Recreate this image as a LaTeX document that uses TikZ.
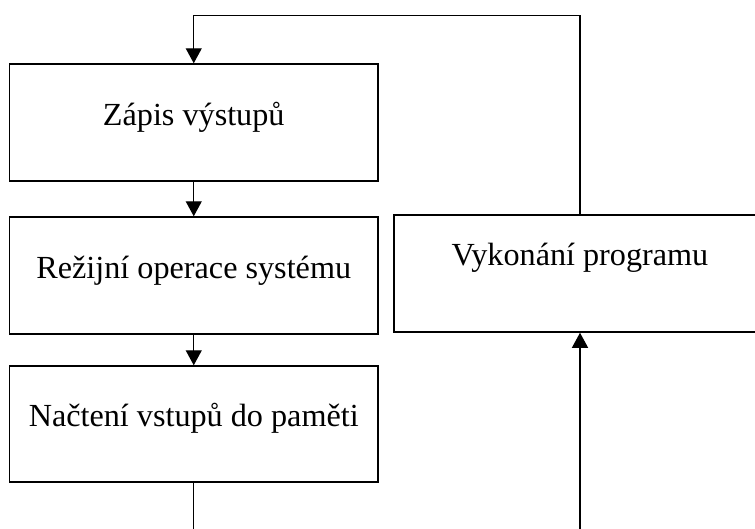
\documentclass[tikz,border=0pt]{standalone}
\usepackage{fontspec}
\setmainfont{Liberation Serif}
\usetikzlibrary{arrows.meta}
\begin{document}
\begin{tikzpicture}[x=1pt,y=-1pt,
  stepbox/.style={draw=black,line width=1.5pt,rectangle,inner sep=0pt,
    font=\fontsize{32.2}{38}\selectfont,text height=20pt,text depth=15pt},
  highbox/.style={stepbox,text height=12pt,text depth=29pt},
  conn/.style={draw=black,line width=1.2pt},
  arr/.style={conn,-{Triangle[width=16pt,length=15pt]}}]
\useasboundingbox (0,0) rectangle (755,528);
\clip (0,0) rectangle (755,528);
% left column
\node[stepbox,minimum width=368.5pt,minimum height=117pt] (b1) at (193.75,122.5) {Zápis výstupů};
\node[stepbox,minimum width=368.5pt,minimum height=117pt] (b2) at (193.75,275.5) {Režijní operace systému};
\node[stepbox,minimum width=368.5pt,minimum height=116pt] (b3) at (193.75,424) {Načtení vstupů do paměti};
% right box, running past the right edge
\node[highbox,minimum width=372pt,minimum height=117pt] (b4) at (580,273.5) {Vykonání programu};
% routing points
\coordinate (top) at (0,15.7);
\coordinate (bot) at (0,535);
% connectors
\draw[arr] (b4.north) -- (b4.north |- top) -| (b1.north);
\draw[arr] (b1.south) -- (b2.north);
\draw[arr] (b2.south) -- (b3.north);
\draw[conn] (b3.south) -- (b3.south |- bot);
\draw[arr] (b4.south |- bot) -- (b4.south);
\end{tikzpicture}
\end{document}
